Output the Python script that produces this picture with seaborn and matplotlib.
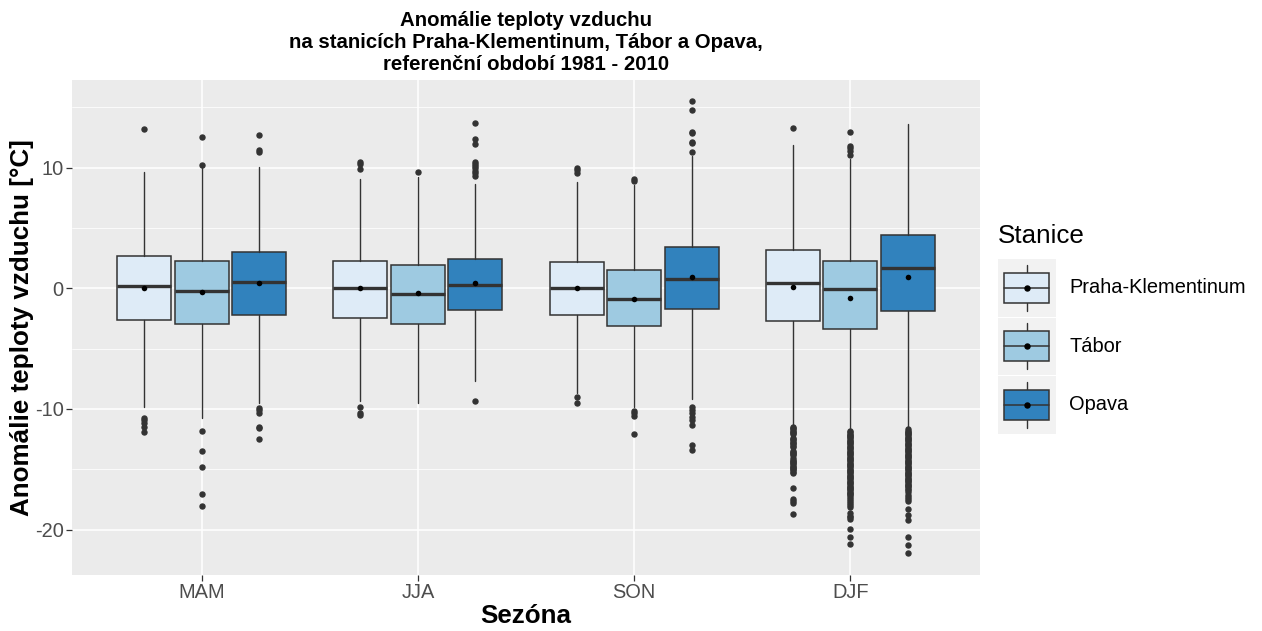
import numpy as np
import pandas as pd
import matplotlib
matplotlib.use("Agg")
import matplotlib.pyplot as plt
from matplotlib.patches import Rectangle, Patch
from matplotlib.lines import Line2D
from matplotlib.legend_handler import HandlerBase
import seaborn as sns

# ---------------- data ----------------
seasons = ["MAM", "JJA", "SON", "DJF"]
stations = ["Praha-Klementinum", "Tábor", "Opava"]

praha_q1 = [-2.63, -2.46, -2.21, -2.71]
praha_med = [0.19, 0.00, 0.03, 0.47]
praha_q3 = [2.68, 2.29, 2.21, 3.18]
praha_lo = [-9.87, -9.37, -8.70, -11.47]
praha_hi = [9.62, 9.10, 8.85, 11.88]
praha_mean = [0.03, 0.00, 0.03, 0.11]
praha_out = [
    [13.19, -10.78, -10.92, -11.20, -11.47, -11.94],
    [10.45, 10.31, 9.90, -9.81, -10.37, -10.50],
    [9.95, 9.81, 9.59, -8.99, -9.48],
    [13.32, -11.50, -11.60, -11.70, -11.80, -11.90, -12.00, -12.10,
     -12.40, -12.50, -12.60, -12.75, -12.85, -12.95, -13.05, -13.15,
     -13.45, -13.55, -13.65, -13.75, -13.85, -14.10, -14.20, -14.30,
     -14.40, -14.50, -14.60, -14.70, -14.80, -14.90, -15.00, -15.10,
     -15.20, -15.30, -16.53, -17.45, -17.60, -17.83, -18.69],
]

tabor_q1 = [-2.99, -2.99, -3.15, -3.40]
tabor_med = [-0.25, -0.50, -0.86, -0.08]
tabor_q3 = [2.29, 1.96, 1.52, 2.29]
tabor_lo = [-10.78, -9.48, -9.87, -11.75]
tabor_hi = [10.10, 9.21, 8.57, 10.70]
tabor_mean = [-0.33, -0.41, -0.86, -0.77]
tabor_out = [
    [12.52, 10.26, -11.83, -13.49, -14.79, -17.03, -18.08],
    [9.62],
    [9.04, 8.90, -10.15, -10.37, -10.59, -12.11],
    [12.93, 11.77, 11.64, 11.36, 11.08,
     -11.85, -11.95, -12.05, -12.15, -12.25, -12.35, -12.45, -12.55,
     -12.65, -12.75, -12.85, -12.95, -13.05, -13.15, -13.25, -13.35,
     -13.45, -13.55, -13.65, -13.75, -13.85, -13.95, -14.05, -14.15,
     -14.25, -14.35, -14.45, -14.55, -14.65, -14.75, -14.85, -14.95,
     -15.05, -15.15, -15.25, -15.35, -15.45, -15.55, -15.65, -15.75,
     -15.85, -15.95, -16.05, -16.15, -16.25, -16.35, -16.45, -16.55,
     -16.65, -16.75, -16.85, -16.95, -17.05, -17.15, -17.28,
     -17.50, -17.65, -17.80, -17.95, -18.16, -18.66, -18.85, -19.00,
     -19.15, -19.99, -20.59, -21.17],
]

opava_q1 = [-2.21, -1.77, -1.69, -1.91]
opava_med = [0.53, 0.28, 0.80, 1.66]
opava_q3 = [3.01, 2.46, 3.46, 4.40]
opava_lo = [-9.51, -7.69, -9.21, -11.61]
opava_hi = [10.04, 8.65, 10.98, 13.63]
opava_mean = [0.44, 0.44, 0.97, 0.97]
opava_out = [
    [12.69, 11.47, 11.33, -9.90, -10.09, -10.37, -11.47, -11.61, -12.47],
    [13.74, 12.41, 12.00, 10.45, 10.31, 10.15, 9.95, 9.75, 9.55, 9.30,
     -9.34],
    [15.54, 14.77, 13.00, 12.86, 12.16, 12.03, 11.31,
     -9.81, -10.09, -10.37, -10.70, -10.92, -11.34, -12.97, -13.41],
    [-11.70, -11.80, -11.90, -12.00, -12.10, -12.20, -12.30, -12.40,
     -12.50, -12.60, -12.70, -12.80, -12.90, -13.00, -13.10, -13.20,
     -13.30, -13.40, -13.50, -13.60, -13.70, -13.80, -13.90, -14.00,
     -14.10, -14.20, -14.30, -14.40, -14.50, -14.60, -14.70, -14.80,
     -14.90, -15.00, -15.10, -15.20, -15.30, -15.40, -15.50, -15.60,
     -15.70, -15.80, -15.90, -16.00, -16.10, -16.20, -16.30, -16.40,
     -16.50, -16.60, -16.70, -16.86, -17.14, -17.30, -17.45, -17.64,
     -18.30, -18.77, -19.21, -20.65, -21.28, -21.94],
]

station_colors = ["#DEEBF7", "#9ECAE1", "#3182BD"]

# ---------------- styling ----------------
sns.set_theme(style="darkgrid", rc={
    "axes.facecolor": "#EBEBEB",
    "grid.color": "white",
    "axes.edgecolor": "white",
})
plt.rcParams["font.family"] = ["Liberation Sans", "DejaVu Sans"]
plt.rcParams["axes.unicode_minus"] = False
plt.rcParams["text.color"] = "black"
plt.rcParams["axes.labelcolor"] = "black"

fig = plt.figure(figsize=(12.62, 6.31), dpi=100)
ax = fig.add_axes([72 / 1262, 1 - 575 / 631, (980 - 72) / 1262, (575 - 80) / 631])

stats_by_station = [
    (praha_q1, praha_med, praha_q3, praha_lo, praha_hi, praha_mean, praha_out),
    (tabor_q1, tabor_med, tabor_q3, tabor_lo, tabor_hi, tabor_mean, tabor_out),
    (opava_q1, opava_med, opava_q3, opava_lo, opava_hi, opava_mean, opava_out),
]
dodge = 0.266
box_w = 0.25
edge = "#333333"

mean_rows = []
for s_idx, (q1, med, q3, lo, hi, mean, out) in enumerate(stats_by_station):
    offset = (s_idx - 1) * dodge
    stats = []
    positions = []
    for i in range(len(seasons)):
        stats.append(dict(q1=q1[i], med=med[i], q3=q3[i], whislo=lo[i],
                          whishi=hi[i], mean=mean[i], fliers=np.array(out[i])))
        positions.append(i + offset)
        mean_rows.append(dict(x=i + offset, y=mean[i], station=stations[s_idx]))
    ax.bxp(stats, positions=positions, widths=box_w, patch_artist=True,
           showcaps=False, showmeans=False,
           boxprops=dict(facecolor=station_colors[s_idx], edgecolor=edge, linewidth=1.1),
           whiskerprops=dict(color=edge, linewidth=1.0),
           medianprops=dict(color=edge, linewidth=2.4),
           flierprops=dict(marker="o", markersize=3.6, markerfacecolor=edge,
                           markeredgecolor=edge, linestyle="none"),
           manage_ticks=False, zorder=3)

means_df = pd.DataFrame(mean_rows)
sns.scatterplot(data=means_df, x="x", y="y", color="black", s=16,
                edgecolor="black", linewidth=0, ax=ax, zorder=5, legend=False)

ax.set_xlim(-0.6, len(seasons) - 1 + 0.6)
ax.set_ylim(-23.77, 17.27)
ax.set_xticks(range(len(seasons)))
ax.set_xticklabels(seasons)
ax.set_yticks([-20, -10, 0, 10])
ax.set_yticks([-15, -5, 5, 15], minor=True)
ax.grid(which="major", color="white", linewidth=1.1)
ax.grid(which="minor", axis="y", color="white", linewidth=0.55)
ax.tick_params(axis="both", which="major", labelsize=14.4, labelcolor="#4D4D4D",
               length=4, color="#333333", width=0.9, pad=2,
               bottom=True, left=True)
ax.tick_params(axis="both", which="minor", length=0)
for sp in ax.spines.values():
    sp.set_visible(False)

ax.set_xlabel("Sezóna", fontsize=18.7, fontweight="bold", labelpad=1)
ax.set_ylabel("Anomálie teploty vzduchu [°C]", fontsize=18.7, fontweight="bold", labelpad=0.5)
ax.set_title("Anomálie teploty vzduchu\nna stanicích Praha-Klementinum, Tábor a Opava,\n"
             "referenční období 1981 - 2010",
             fontsize=14.7, fontweight="bold", linespacing=1.2, pad=7, color="black")


# ---------------- legend ----------------
class BoxKeyHandler(HandlerBase):
    def create_artists(self, legend, orig_handle, xdescent, ydescent,
                       width, height, fontsize, trans):
        x0, y0 = -xdescent, -ydescent
        face = orig_handle.get_facecolor()
        bg = Rectangle((x0, y0), width, height, facecolor="#F2F2F2",
                       edgecolor="none", transform=trans)
        cx = x0 + width / 2
        w1 = Line2D([cx, cx], [y0 + 0.1 * height, y0 + 0.24 * height],
                    color=edge, lw=1.0, transform=trans)
        w2 = Line2D([cx, cx], [y0 + 0.76 * height, y0 + 0.9 * height],
                    color=edge, lw=1.0, transform=trans)
        box = Rectangle((x0 + 0.11 * width, y0 + 0.24 * height), 0.77 * width,
                        0.52 * height, facecolor=face, edgecolor=edge,
                        linewidth=1.1, transform=trans)
        med = Line2D([x0 + 0.11 * width, x0 + 0.88 * width],
                     [y0 + 0.5 * height, y0 + 0.5 * height],
                     color=edge, lw=1.1, transform=trans)
        dot = Line2D([cx], [y0 + 0.5 * height], marker="o", markersize=3.6,
                     color="black", linestyle="none", transform=trans)
        return [bg, w1, w2, box, med, dot]


handles = [Patch(facecolor=c, edgecolor=edge) for c in station_colors]
leg = fig.legend(handles, stations, handler_map={Patch: BoxKeyHandler()},
                 loc="upper left", bbox_to_anchor=(998 / 1262, 1 - 224 / 631),
                 frameon=False, fontsize=14.4, title="Stanice",
                 title_fontsize=18.7, alignment="left",
                 handlelength=2.9, handleheight=4.05, labelspacing=0.05,
                 handletextpad=0.65, borderpad=0, borderaxespad=0)
leg._legend_box.sep = 8

fig.savefig("out.png", dpi=100)
